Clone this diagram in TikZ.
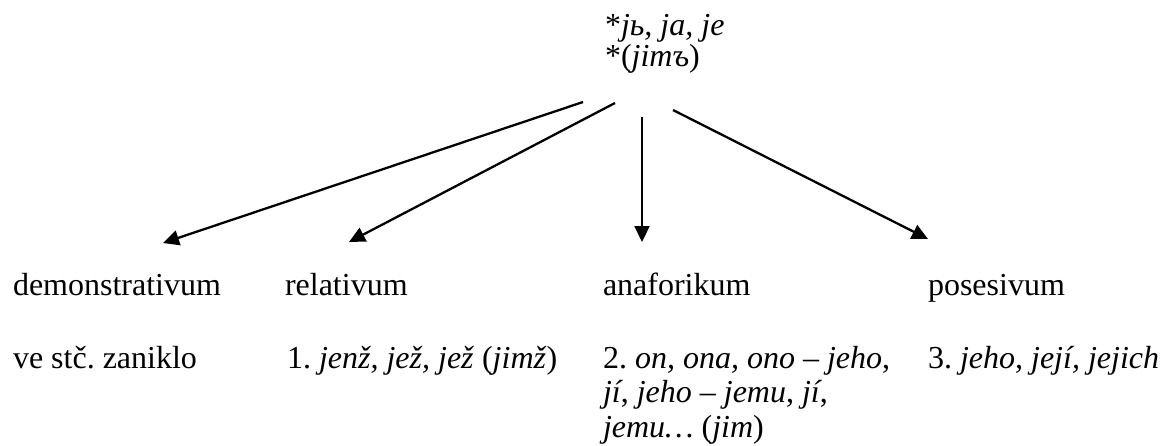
\documentclass[tikz,border=0pt]{standalone}
\usepackage{fontspec}
\setmainfont{Liberation Serif}
\usetikzlibrary{arrows.meta}
\frenchspacing
\begin{document}
\begin{tikzpicture}[x=1pt,y=-1pt,
  lbl/.style={anchor=base west,inner sep=0pt,outer sep=0pt,font=\frenchspacing\fontsize{32}{34.5}\selectfont,align=left},
  conn/.style={line width=2.3pt,-{Triangle[length=16pt,width=15pt]}}]
\useasboundingbox (0,0) rectangle (1162,445);
\node[lbl,font=\frenchspacing\fontsize{32}{31}\selectfont] (root) at (605,66) {*\textit{jь, ja, je}\\*(\textit{jimъ})};
\node[lbl] (demo) at (13,295) {demonstrativum};
\node[lbl] (rel) at (285,295) {relativum};
\node[lbl] (ana) at (603,295) {anaforikum};
\node[lbl] (pos) at (928,295) {posesivum};
\node[lbl] (demot) at (13,368) {ve stč. zaniklo};
\node[lbl] (relt) at (287,368) {1. \textit{jenž, jež, jež} (\textit{jimž})};
\node[lbl] (anat) at (603,437) {2. \textit{on, ona, ono – jeho},\\\textit{jí}, \textit{jeho – jemu}, \textit{jí},\\\textit{jemu…} (\textit{jim})};
\node[lbl] (post) at (928,368) {3. \textit{jeho, její, jejich}};
\coordinate (s1) at (583,102);
\coordinate (s2) at (615,103);
\coordinate (s3) at (642,117);
\coordinate (s4) at (673,110);
\coordinate (e1) at (163,243);
\coordinate (e2) at (349,242);
\coordinate (e3) at (642,242);
\coordinate (e4) at (928,239);
\draw[conn] (s1) -- (e1);
\draw[conn] (s2) -- (e2);
\draw[conn] (s3) -- (e3);
\draw[conn] (s4) -- (e4);
\end{tikzpicture}
\end{document}
